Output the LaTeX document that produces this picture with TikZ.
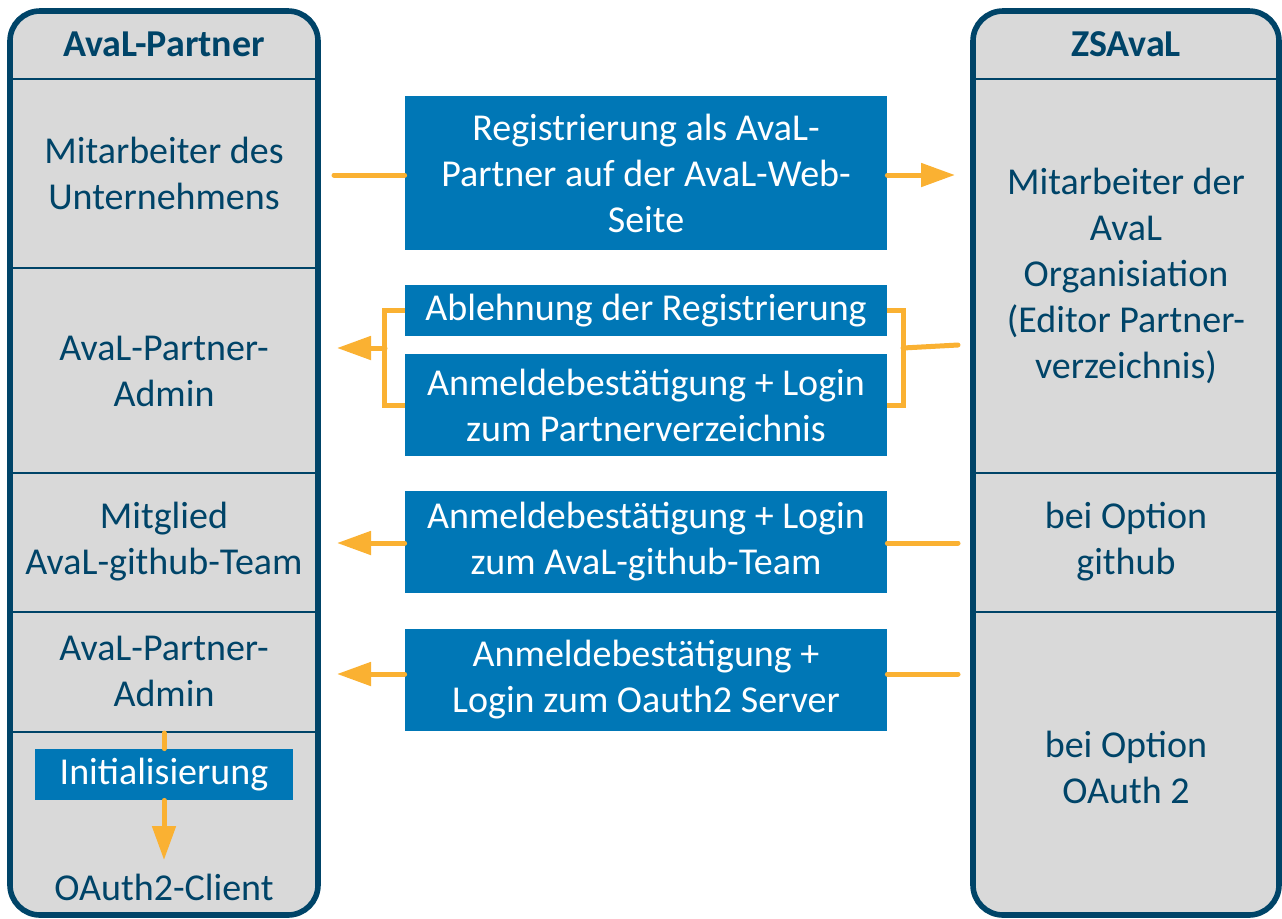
\documentclass[tikz,border=0pt]{standalone}
\usepackage{fontspec}
\setmainfont{Carlito}
\usetikzlibrary{arrows.meta}
\definecolor{lanefill}{HTML}{D9D9D9}
\definecolor{laneline}{HTML}{004468}
\definecolor{msgblue}{HTML}{0077B6}
\definecolor{floworange}{HTML}{FAB132}

\begin{document}
\begin{tikzpicture}[x=0.5pt, y=-0.5pt,
    lanetext/.style={text=laneline, align=center, font=\fontsize{19}{23}\selectfont},
    lanehead/.style={lanetext, font=\fontsize{19}{23}\selectfont\bfseries},
    msg/.style={fill=msgblue, text=white, align=center, minimum width=241pt, inner sep=0pt, font=\fontsize{19}{23}\selectfont},
    flow/.style={floworange, line width=2.5pt, line cap=round},
    flowarrow/.style={flow, -{Triangle[length=17pt, width=11.5pt]}}]
    \useasboundingbox (0,0) rectangle (1282,918);

    % Lanes
    \fill[lanefill, rounded corners=15pt] (10,11) rectangle (318,915);
    \fill[lanefill, rounded corners=15pt] (973,11) rectangle (1279,915);
    \foreach \y in {79,268,473,612,732}
        \draw[laneline, line width=0.6pt] (10,\y) -- (318,\y);
    \foreach \y in {79,473,612}
        \draw[laneline, line width=0.6pt] (973,\y) -- (1279,\y);
    \draw[laneline, line width=2.8pt, rounded corners=15pt] (10,11) rectangle (318,915);
    \draw[laneline, line width=2.8pt, rounded corners=15pt] (973,11) rectangle (1279,915);

    % Left lane: AvaL-Partner
    \node[lanehead] (partner) at (164,44) {AvaL-Partner};
    \node[lanetext] (employee) at (164,173) {Mitarbeiter des\\Unternehmens};
    \node[lanetext] (admin) at (164,371) {AvaL-Partner-\\Admin};
    \node[lanetext] (member) at (164,542) {Mitglied\\AvaL-github-Team};
    \node[lanetext] (clientadmin) at (164,671) {AvaL-Partner-\\Admin};
    \node[lanetext] (client) at (164,887) {OAuth2-Client};

    % Right lane: ZSAvaL
    \node[lanehead] (zsaval) at (1126,44) {ZSAvaL};
    \node[lanetext] (editor) at (1126,276) {Mitarbeiter der\\AvaL\\Organisiation\\(Editor Partner-\\verzeichnis)};
    \node[lanetext] (github) at (1126,542) {bei Option\\github};
    \node[lanetext] (oauth) at (1126,767) {bei Option\\OAuth 2};

    % Messages
    \node[msg, minimum height=77pt] (register) at (646,173) {Registrierung als AvaL-\\Partner auf der AvaL-Web-\\Seite};
    \node[msg, minimum height=25.5pt] (reject) at (646,310.5) {Ablehnung der Registrierung};
    \node[msg, minimum height=51pt] (confirm) at (646,405) {Anmeldebestätigung + Login\\zum Partnerverzeichnis};
    \node[msg, minimum height=51pt] (ghconfirm) at (646,542) {Anmeldebestätigung + Login\\zum AvaL-github-Team};
    \node[msg, minimum height=51pt] (oaconfirm) at (646,680) {Anmeldebestätigung +\\Login zum Oauth2 Server};
    \node[msg, minimum width=129pt, minimum height=25.5pt] (init) at (164,774.5) {Initialisierung};

    % Registration
    \coordinate (regstart) at (334,175);
    \coordinate (regend) at (955,175);
    \draw[flow] (regstart) -- (regstart -| register.west);
    \draw[flowarrow] (regstart -| register.east) -- (regend);

    % Reply bracket
    \coordinate (rejstart) at (958,345);
    \coordinate (rightjoin) at (903,348);
    \coordinate (leftjoin) at (385,348);
    \coordinate (rejend) at (337,348);
    \draw[flow, line cap=butt] (reject.east) -- ++(16,0) |- (confirm.east);
    \draw[flow, line cap=butt] (reject.west) -- ++(-20,0) |- (confirm.west);
    \draw[flow] (rejstart) -- (rightjoin);
    \draw[flowarrow] (leftjoin) -- (rejend);

    % github
    \coordinate (ghstart) at (958,543);
    \coordinate (ghend) at (337,543);
    \draw[flow] (ghstart) -- (ghstart -| ghconfirm.east);
    \draw[flowarrow] (ghstart -| ghconfirm.west) -- (ghend);

    % OAuth 2
    \coordinate (oastart) at (958,674);
    \coordinate (oaend) at (337,674);
    \draw[flow] (oastart) -- (oastart -| oaconfirm.east);
    \draw[flowarrow] (oastart -| oaconfirm.west) -- (oaend);

    % Initialisation
    \coordinate (inittop) at (164,733);
    \coordinate (initend) at (164,860);
    \draw[flow] (inittop) -- (init.north);
    \draw[flowarrow] (init.south) -- (initend);
\end{tikzpicture}
\end{document}
